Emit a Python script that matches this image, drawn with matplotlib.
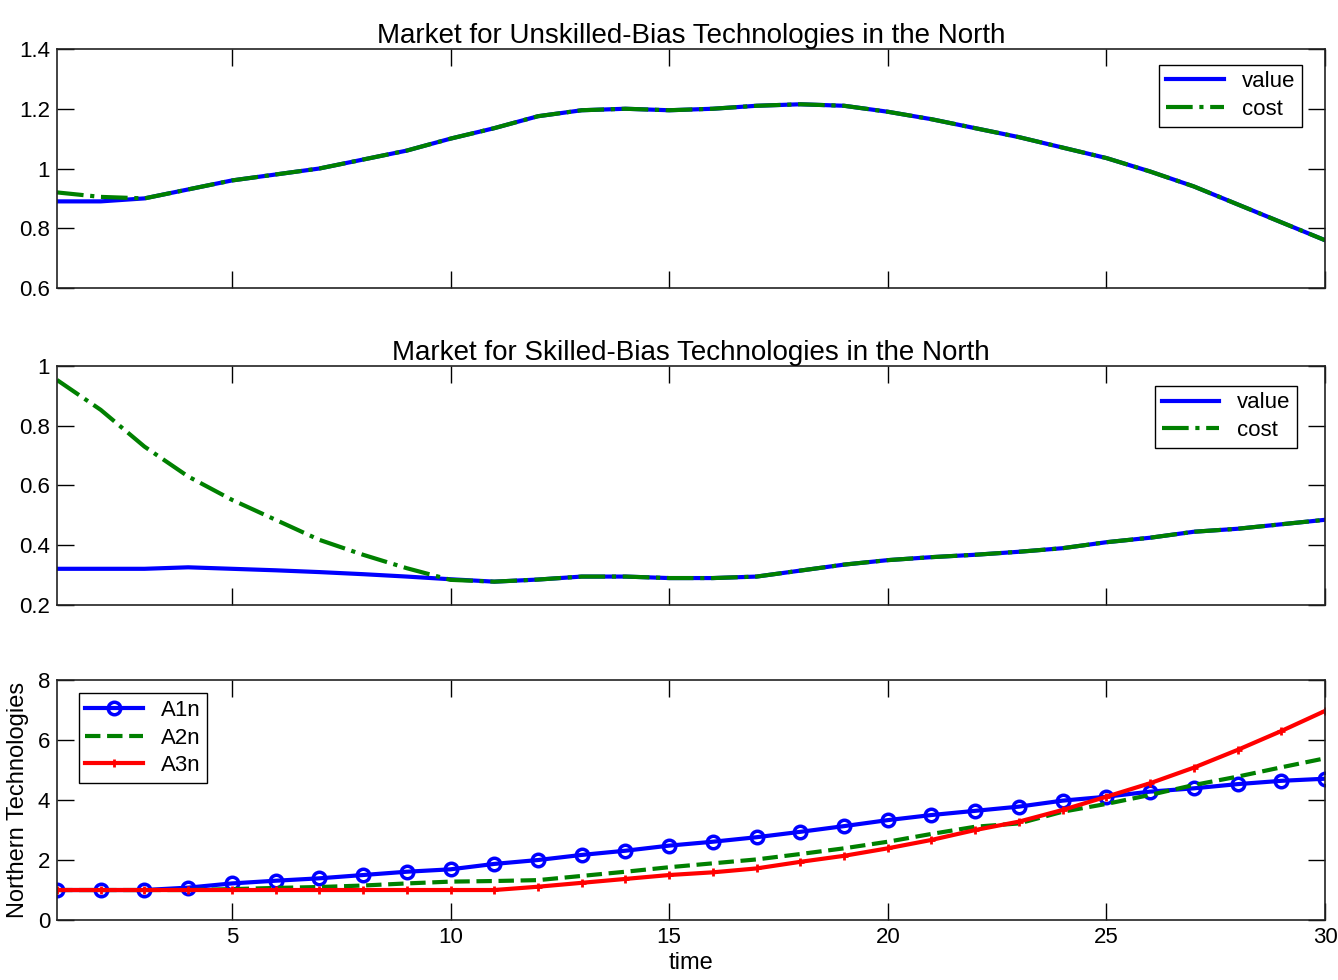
import numpy as np
import matplotlib
matplotlib.use('Agg')
import matplotlib.pyplot as plt

plt.rcParams['font.family'] = ['Liberation Sans', 'DejaVu Sans']

t = list(range(1, 31))

# market for unskilled-bias technologies
unsk_value = [0.89, 0.89, 0.90, 0.93, 0.96, 0.98, 1.00, 1.03, 1.06, 1.10,
              1.135, 1.175, 1.195, 1.20, 1.195, 1.20, 1.21, 1.215, 1.21, 1.19,
              1.165, 1.135, 1.105, 1.07, 1.035, 0.99, 0.94, 0.88, 0.82, 0.76]
unsk_cost = [0.92, 0.905, 0.90] + unsk_value[3:]

# market for skilled-bias technologies
sk_value = [0.321, 0.321, 0.321, 0.326, 0.321, 0.316, 0.31, 0.303, 0.295, 0.286,
            0.278, 0.285, 0.295, 0.295, 0.29, 0.29, 0.295, 0.315, 0.335, 0.35,
            0.36, 0.368, 0.378, 0.39, 0.41, 0.425, 0.445, 0.455, 0.47, 0.485]
sk_cost = [0.953, 0.853, 0.73, 0.63, 0.552, 0.485, 0.418, 0.368, 0.323, 0.284] + sk_value[10:]

# northern technologies
A1n = [1.0, 1.0, 1.0, 1.08, 1.22, 1.31, 1.39, 1.5, 1.61, 1.69,
       1.87, 2.0, 2.17, 2.31, 2.48, 2.61, 2.76, 2.94, 3.13, 3.33,
       3.5, 3.64, 3.78, 3.98, 4.11, 4.28, 4.39, 4.53, 4.64, 4.71]
A2n = [1.0, 1.0, 1.0, 1.0, 1.03, 1.07, 1.1, 1.15, 1.22, 1.28,
       1.3, 1.33, 1.47, 1.61, 1.76, 1.89, 2.02, 2.2, 2.39, 2.61,
       2.87, 3.11, 3.22, 3.61, 3.87, 4.17, 4.5, 4.78, 5.09, 5.39]
A3n = [1.0, 1.0, 1.0, 1.0, 1.0, 1.0, 1.0, 1.0, 1.0, 1.0,
       1.0, 1.11, 1.24, 1.37, 1.5, 1.59, 1.72, 1.94, 2.14, 2.39,
       2.67, 3.0, 3.28, 3.67, 4.11, 4.56, 5.08, 5.67, 6.3, 6.97]

blue = '#0000ff'
green = '#008000'
red = '#ff0000'
lw = 3.0

fig = plt.figure(figsize=(13.38, 9.8), dpi=100)
ax1 = fig.add_axes([0.0426, 0.7061, 0.9477, 0.2439])
ax2 = fig.add_axes([0.0426, 0.3827, 0.9477, 0.2439])
ax3 = fig.add_axes([0.0426, 0.0612, 0.9477, 0.2449])

leg_kw = dict(fontsize=16, fancybox=False, edgecolor='black', framealpha=1,
              handlelength=2.6, borderpad=0.3, labelspacing=0.3,
              handletextpad=0.8, borderaxespad=0)

ax1.plot(t, unsk_value, color=blue, lw=lw, label='value')
ax1.plot(t, unsk_cost, color=green, lw=lw, ls='-.', label='cost')
ax1.set_ylim(0.6, 1.4)
ax1.set_yticks([0.6, 0.8, 1.0, 1.2, 1.4])
ax1.set_yticklabels(['0.6', '0.8', '1', '1.2', '1.4'])
ax1.set_title('Market for Unskilled-Bias Technologies in the North', fontsize=20, pad=4)
ax1.legend(loc='upper right', bbox_to_anchor=(0.9815, 0.935), **leg_kw)

ax2.plot(t, sk_value, color=blue, lw=lw, label='value')
ax2.plot(t, sk_cost, color=green, lw=lw, ls='-.', label='cost')
ax2.set_ylim(0.2, 1.0)
ax2.set_yticks([0.2, 0.4, 0.6, 0.8, 1.0])
ax2.set_yticklabels(['0.2', '0.4', '0.6', '0.8', '1'])
ax2.set_title('Market for Skilled-Bias Technologies in the North', fontsize=20, pad=4)
ax2.legend(loc='upper right', bbox_to_anchor=(0.978, 0.917), **leg_kw)

ax3.plot(t, A1n, color=blue, lw=lw, marker='o', ms=9, mfc='none', mew=2.5, label='A1n')
ax3.plot(t, A2n, color=green, lw=lw, ls='--', label='A2n')
ax3.plot(t, A3n, color=red, lw=lw, marker='+', ms=6, mew=2, label='A3n')
ax3.set_ylim(0, 8)
ax3.set_yticks([0, 2, 4, 6, 8])
ax3.set_xlabel('time', fontsize=17, labelpad=3)
ax3.set_ylabel('Northern Technologies', fontsize=17, labelpad=6)
ax3.legend(loc='upper left', bbox_to_anchor=(0.017, 0.945), **leg_kw)

for ax in (ax1, ax2, ax3):
    ax.set_xlim(1, 30)
    ax.set_xticks([5, 10, 15, 20, 25, 30])
    ax.tick_params(direction='in', length=12, width=1, top=True, right=True,
                   labelsize=16, pad=5)
    for s in ax.spines.values():
        s.set_linewidth(1.2)
        s.set_color('#222222')
ax1.set_xticklabels([])
ax2.set_xticklabels([])

fig.savefig('out.png', dpi=100)
